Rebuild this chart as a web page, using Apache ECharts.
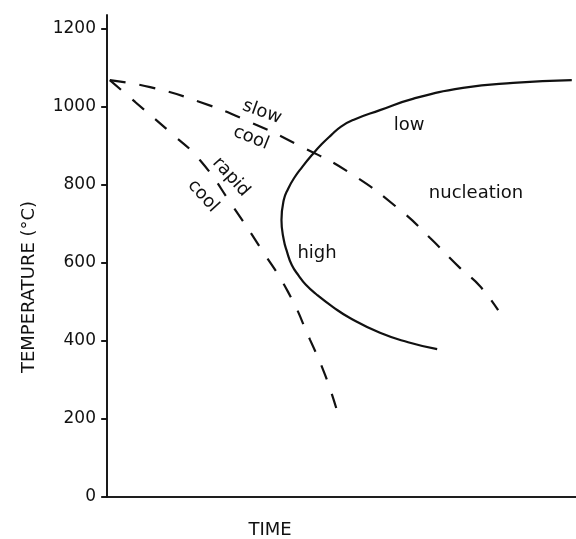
<!DOCTYPE html>
<html>
<head>
<meta charset="utf-8">
<script src="https://cdn.jsdelivr.net/npm/echarts@6/dist/echarts.min.js"></script>
<style>
  html, body { margin: 0; padding: 0; background: #fff; }
  #chart { width: 576px; height: 539px; }
</style>
</head>
<body>
<div id="chart"></div>
<script>
// Continuous-cooling sketch: nucleation C-curve with two cooling paths.
// Time runs on an arbitrary 0-100 scale (no ticks), temperature in °C.
const tempTicks = [0, 200, 400, 600, 800, 1000, 1200];

// nucleation boundary, traced from its low end round the nose to the top
const nucleationTime = [70.4, 64.2, 58.2, 51.8, 48.2, 44.8, 42.4, 40.9, 39.4, 38.4, 37.7, 37.2, 37.7, 38.6, 39.9, 41.6, 43.7, 45.8, 47.8, 49.9, 52.5, 58.2, 65.2, 75.9, 86.6, 99.1];
const nucleationTemp = [379, 397, 421, 459, 487, 518, 544, 567, 595, 628, 659, 710, 762, 790, 818, 846, 877, 905, 928, 950, 967, 992, 1021, 1049, 1062, 1069];

// slow cooling path
const slowTime = [0.6, 9.2, 19.8, 30.4, 41.2, 51.8, 62.5, 68.9, 75.3, 79.5, 83.4];
const slowTemp = [1069, 1051, 1013, 962, 900, 831, 736, 664, 587, 541, 479];

// rapid cooling path
const rapidTime = [0.6, 6.0, 13.4, 19.8, 26.9, 32.6, 38.6, 43.3, 46.5, 49.0];
const rapidTemp = [1069, 1013, 936, 864, 744, 641, 526, 403, 313, 223];

const pairs = (xs, ys) => xs.map((x, i) => [x, ys[i]]);

const INK = '#111';
const FONT = '"DejaVu Sans", sans-serif';

const chart = echarts.init(document.getElementById('chart'), null, { renderer: 'canvas' });

// free-standing annotation; deg > 0 turns the text clockwise
function label(text, x, y, deg) {
  return {
    type: 'text',
    x: x, y: y,
    rotation: -(deg || 0) * Math.PI / 180,
    style: {
      text: text,
      fill: INK,
      font: '18px ' + FONT,
      textAlign: 'center',
      textVerticalAlign: 'middle'
    },
    z: 10
  };
}

const option = {
  animation: false,
  backgroundColor: '#fff',
  grid: { left: 107, right: 0, top: 15, bottom: 42, containLabel: false },
  xAxis: [
    {
      type: 'value', min: 0, max: 100, position: 'bottom',
      axisLine: { show: true, lineStyle: { color: INK, width: 1.6 } },
      axisTick: { show: false }, axisLabel: { show: false }, splitLine: { show: false }
    },
    {
      type: 'value', min: 0, max: 100, position: 'top',
      axisLine: { show: true, lineStyle: { color: INK, width: 1.6 } },
      axisTick: { show: false }, axisLabel: { show: false }, splitLine: { show: false }
    }
  ],
  yAxis: [
    {
      type: 'value', min: 0, max: 1236, interval: 200, position: 'left',
      axisLine: { show: true, lineStyle: { color: INK, width: 1.6 } },
      axisTick: { show: true, length: 6, customValues: tempTicks, lineStyle: { color: INK, width: 1.6 } },
      axisLabel: {
        customValues: tempTicks, margin: 11, color: INK,
        fontFamily: FONT, fontSize: 17,
        formatter: v => String(v)
      },
      splitLine: { show: false }
    },
    {
      type: 'value', min: 0, max: 1236, interval: 200, position: 'right',
      axisLine: { show: true, lineStyle: { color: INK, width: 1.6 } },
      axisTick: { show: true, inside: true, length: 5, customValues: tempTicks, lineStyle: { color: INK, width: 1.6 } },
      axisLabel: { show: false },
      splitLine: { show: false }
    }
  ],
  series: [
    {
      name: 'nucleation', type: 'line', smooth: 0.5, showSymbol: false,
      data: pairs(nucleationTime, nucleationTemp),
      lineStyle: { color: INK, width: 2.2 }
    },
    {
      name: 'slow cool', type: 'line', smooth: 0.5, showSymbol: false,
      data: pairs(slowTime, slowTemp),
      lineStyle: { color: INK, width: 2.2, type: [16, 14] }
    },
    {
      name: 'rapid cool', type: 'line', smooth: 0.5, showSymbol: false,
      data: pairs(rapidTime, rapidTemp),
      lineStyle: { color: INK, width: 2.2, type: [15, 15] }
    }
  ],
  graphic: [
    label('low', 409, 125),
    label('nucleation', 476, 193),
    label('high', 317, 253),
    label('slow', 262, 112, 20),
    label('cool', 251, 138, 22),
    label('rapid', 231, 177, 48),
    label('cool', 203, 196, 48),
    label('TIME', 270, 530),
    label('TEMPERATURE (°C)', 29, 287, -90)
  ]
};

chart.setOption(option);
</script>
</body>
</html>
